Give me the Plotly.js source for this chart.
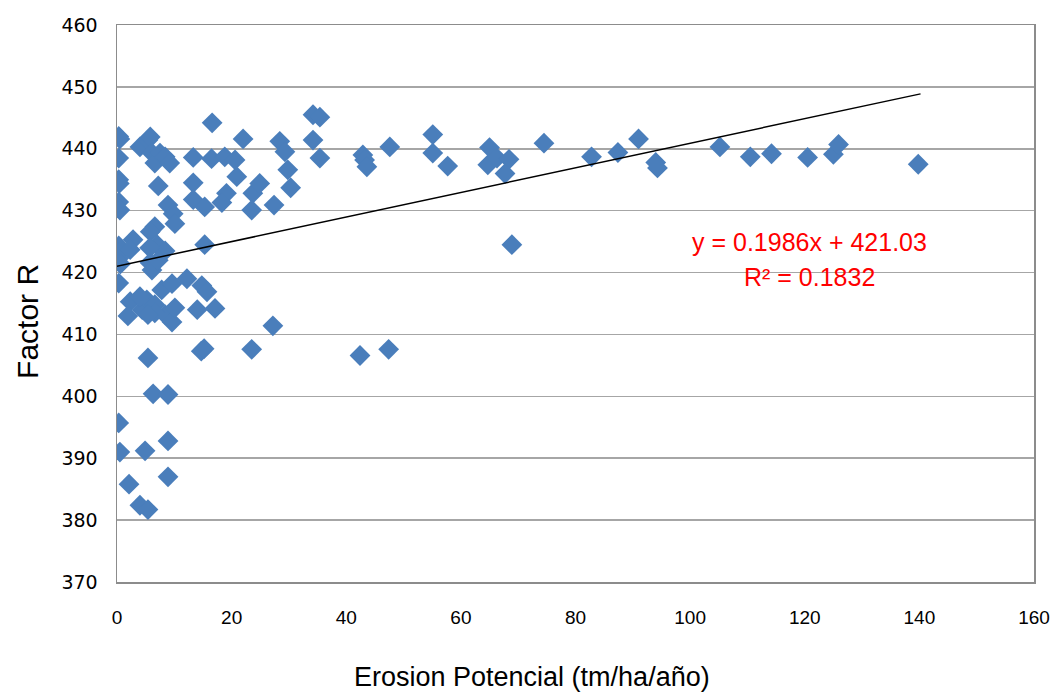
<!DOCTYPE html>
<html>
<head>
<meta charset="utf-8">
<script src="https://cdn.plot.ly/plotly-3.0.1.min.js"></script>
<style>html,body{margin:0;padding:0;background:#fff;}#chart{width:1059px;height:696px;}</style>
</head>
<body>
<div id="chart"></div>
<script>
// Erosion Potencial (tm/ha/año)
const erosion = [
  0.3,0.5,0.3,0.3,0.4,0.3,0.5,0.3,0.4,0.3,0.6,0.3,0.3,0.5,
  4.0,5.4,5.8,6.1,6.6,7.5,8.4,9.2,7.2,8.9,9.8,10.1,6.6,
  16.6,13.3,16.5,18.8,20.6,22.0,20.9,13.3,13.3,19.1,18.3,15.3,23.7,24.9,23.5,27.4,
  28.4,29.3,29.8,30.3,34.2,35.4,34.2,35.4,
  42.9,43.2,43.6,47.6,55.1,55.1,57.7,65.0,64.7,66.3,68.4,67.7,68.9,
  74.5,82.8,87.4,91.0,94.0,94.3,105.2,110.5,114.2,120.5,125.0,125.9,139.8,
  2.8,2.3,5.8,7.0,8.4,5.75,6.1,7.2,5.7,15.3,
  2.3,1.9,4.4,5.2,4.0,6.6,7.8,9.6,12.2,14.8,15.7,8.4,9.6,6.6,5.4,10.1,14.0,17.1,
  27.2,23.5,42.4,47.4,5.4,14.7,15.2,6.3,8.9,4.9,8.9,2.1,8.9,4.0,5.4
];
// Factor R
const factorR = [
  442.0,441.6,438.5,435.0,434.4,431.4,430.1,424.3,423.2,422.3,421.4,418.3,395.7,391.0,
  440.3,441.4,441.9,439.3,437.7,439.3,438.7,437.7,434.0,430.9,429.5,427.9,427.4,
  444.2,438.6,438.4,438.7,438.2,441.6,435.5,434.5,431.8,432.8,431.3,430.6,432.8,434.4,430.1,430.9,
  441.2,439.5,436.6,433.7,445.5,445.1,441.4,438.5,
  439.0,438.2,437.1,440.3,442.3,439.3,437.2,440.2,437.4,438.5,438.3,436.0,424.5,
  440.9,438.7,439.4,441.6,437.8,436.9,440.3,438.7,439.2,438.6,439.1,440.7,437.5,
  425.3,423.7,426.6,424.5,423.5,421.6,420.4,422.0,424.0,424.5,
  415.3,413.0,414.0,415.6,416.1,414.8,417.2,418.2,419.0,417.9,416.9,413.2,412.0,413.5,413.2,414.3,414.0,414.2,
  411.4,407.6,406.6,407.6,406.2,407.3,407.7,400.4,400.3,391.2,392.8,385.8,387.0,382.4,381.7
];
// Linear trend line (from the chart's equation)
const trendSlope = 0.1986;
const trendIntercept = 421.03;
const trendRange = [0, 140.2];
const equationText = "y = 0.1986x + 421.03";
const r2Text = "R² = 0.1832";
const xTitle = "Erosion Potencial (tm/ha/año)";
const yTitle = "Factor R";
const xTicks = [0,20,40,60,80,100,120,140,160];
const yTicks = [370,380,390,400,410,420,430,440,450,460];

const trendY = trendRange.map(x => trendSlope * x + trendIntercept);

const data = [
  {
    x: erosion, y: factorR, type: 'scatter', mode: 'markers',
    marker: {symbol: 'diamond', size: 16, color: '#4a7ebb', line: {width: 0}},
    hoverinfo: 'x+y'
  },
  {
    x: trendRange, y: trendY, type: 'scatter', mode: 'lines',
    line: {color: '#000000', width: 1.5}, hoverinfo: 'skip'
  }
];

const sans = 'Liberation Sans, Arial, sans-serif';
const wide = 'DejaVu Sans, Verdana, sans-serif';

const layout = {
  width: 1059, height: 696,
  margin: {l: 117, r: 25, t: 25, b: 114},
  paper_bgcolor: '#ffffff', plot_bgcolor: '#ffffff',
  showlegend: false,
  font: {family: sans, color: '#000'},
  xaxis: {
    range: [0, 160], tickvals: xTicks, ticktext: xTicks.map(String),
    showgrid: false, zeroline: false,
    showline: true, mirror: true, linecolor: '#8c8c8c', linewidth: 1.5,
    ticks: '', ticklen: 0, ticklabelstandoff: 18,
    tickfont: {family: sans, size: 19}
  },
  yaxis: {
    range: [370, 460], tickvals: yTicks, ticktext: yTicks.map(String),
    showgrid: true, gridcolor: '#a6a6a6', gridwidth: 1.5, zeroline: false,
    showline: true, mirror: true, linecolor: '#8c8c8c', linewidth: 1.5,
    ticks: '', ticklen: 0, ticklabelstandoff: 14,
    tickfont: {family: wide, size: 19}
  },
  annotations: [
    {x: 120.8, y: 424.9, xref: 'x', yref: 'y', text: equationText, showarrow: false,
     font: {family: sans, size: 25, color: '#ff0000'}},
    {x: 120.8, y: 419.3, xref: 'x', yref: 'y', text: r2Text, showarrow: false,
     font: {family: sans, size: 25, color: '#ff0000'}},
    {x: 0.4526, y: -0.17, xref: 'paper', yref: 'paper', text: xTitle, showarrow: false,
     xanchor: 'center', yanchor: 'middle',
     font: {family: sans, size: 27, color: '#000'}},
    {x: -0.097, y: 0.467, xref: 'paper', yref: 'paper', text: yTitle, showarrow: false,
     textangle: -90, xanchor: 'center', yanchor: 'middle',
     font: {family: sans, size: 30, color: '#000'}}
  ]
};

Plotly.newPlot('chart', data, layout, {displayModeBar: false, staticPlot: true});
</script>
</body>
</html>
